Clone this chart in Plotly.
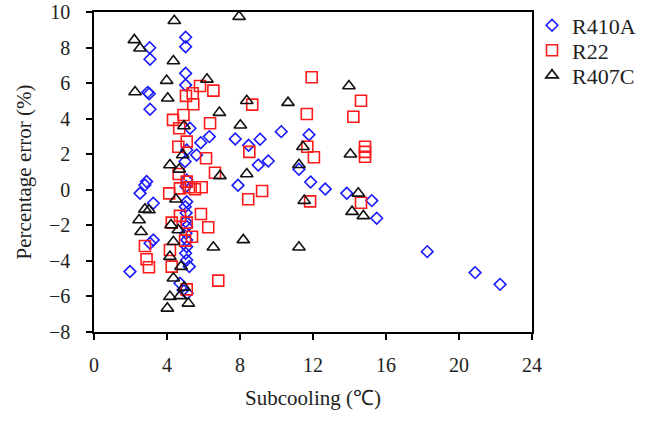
import plotly.graph_objects as go

# R410A (diamonds)
r410a_x = [5.02, 5.02, 3.05, 3.07, 5.02, 5.02, 2.94, 3.03, 3.07, 5.26, 6.32, 5.85, 5.08, 5.62, 4.99,
           5.08, 5.04, 2.88, 2.79, 2.52, 3.25, 5.08, 5.00, 5.05, 5.02, 5.08, 5.04, 5.08, 5.08, 5.02,
           5.08, 5.22, 3.25, 3.07, 1.97, 4.71, 4.88, 5.11,
           7.74, 8.47, 9.10, 10.26, 11.78, 9.00, 9.55, 11.23, 7.89, 11.87, 12.67, 13.85, 15.22,
           15.49, 18.26, 20.88, 22.25]
r410a_y = [8.58, 8.05, 7.99, 7.34, 6.55, 5.89, 5.48, 5.40, 4.53, 3.46, 2.99, 2.65, 2.24, 1.96, 1.59,
           0.55, 0.18, 0.46, 0.27, -0.20, -0.76, -0.67, -0.95, -1.30, -1.79, -2.07, -2.45, -2.82, -3.20, -3.57,
           -3.95, -4.32, -2.82, -3.01, -4.60, -5.26, -5.64, -5.82,
           2.86, 2.50, 2.84, 3.27, 3.10, 1.39, 1.62, 1.15, 0.25, 0.44, 0.04, -0.20, -0.61,
           -1.60, -3.48, -4.66, -5.32]

# R22 (squares)
r22_x = [5.81, 6.54, 5.41, 5.04, 5.44, 4.90, 4.33, 6.36, 4.67, 5.08, 4.62, 6.14, 6.63, 4.64, 4.12,
         4.71, 5.08, 5.20, 5.90, 5.53, 5.86, 4.71, 4.26, 5.08, 6.26, 5.37, 4.99, 4.16, 4.26, 6.81,
         5.08, 2.79, 2.88, 3.01,
         11.93, 8.67, 14.63, 14.21, 11.66, 11.69, 8.51, 12.05, 14.85, 14.85, 14.85, 8.45, 9.21,
         11.84, 14.63]
r22_y = [5.84, 5.58, 5.43, 5.28, 4.81, 4.21, 3.93, 3.74, 3.46, 2.71, 2.42, 1.77, 0.96, 0.89, -0.20,
         0.08, 0.46, 0.14, 0.14, 0.03, -1.36, -1.47, -1.85, -1.85, -2.11, -2.64, -2.86, -3.39, -4.32, -5.11,
         -5.60, -3.16, -3.91, -4.36,
         6.33, 4.79, 5.01, 4.11, 4.26, 2.42, 2.13, 1.83, 2.42, 2.13, 1.86, -0.53, -0.07,
         -0.65, -0.73]

# R407C (triangles)
r407c_x = [4.40, 7.95, 2.21, 2.52, 4.35, 3.98, 6.19, 2.25, 4.04, 6.87, 4.93, 4.86, 4.16, 4.67, 6.90,
           4.49, 2.79, 3.01, 2.47, 2.58, 4.22, 4.62, 4.35, 4.16, 4.77, 4.35, 4.93, 4.16, 4.71, 5.17,
           4.02, 6.54,
           13.97, 8.37, 10.63, 8.02, 11.45, 14.05, 11.23, 8.37, 11.52, 14.48, 14.14, 14.76, 8.18, 11.23]
r407c_y = [9.51, 9.74, 8.43, 7.96, 7.24, 6.14, 6.21, 5.50, 5.15, 4.34, 3.59, 1.96, 1.39, 1.15, 0.78,
           -0.53, -1.10, -1.14, -1.70, -2.36, -1.98, -2.26, -2.92, -3.76, -4.32, -4.98, -5.49, -6.01, -5.97, -6.39,
           -6.67, -3.23,
           5.84, 5.01, 4.90, 3.63, 2.42, 2.00, 1.41, 0.89, -0.61, -0.20, -1.23, -1.47, -2.82, -3.23]

x_ticks = [0, 4, 8, 12, 16, 20, 24]
y_ticks = [-8, -6, -4, -2, 0, 2, 4, 6, 8, 10]

FONT = "Liberation Serif, Times New Roman, serif"

fig = go.Figure()
fig.add_trace(go.Scatter(x=r410a_x, y=r410a_y, mode="markers", name="R410A", legend="legend",
                         marker=dict(symbol="diamond-open", size=9, color="#1a1aff",
                                     line=dict(width=1.6, color="#1a1aff"))))
fig.add_trace(go.Scatter(x=r22_x, y=r22_y, mode="markers", name="R22", legend="legend2",
                         marker=dict(symbol="square-open", size=11, color="#ff1a1a",
                                     line=dict(width=1.6, color="#ff1a1a"))))
fig.add_trace(go.Scatter(x=r407c_x, y=r407c_y, mode="markers", name="R407C", legend="legend3",
                         marker=dict(symbol="triangle-up-open", size=11, color="#111111",
                                     line=dict(width=1.6, color="#111111"))))

axis_common = dict(showgrid=False, zeroline=False, showline=True, linecolor="black",
                   linewidth=1.5, mirror=True, ticks="outside", ticklen=6, tickwidth=1.5,
                   tickcolor="black", automargin=False,
                   tickfont=dict(family=FONT, size=20, color="#222"))

leg_common = dict(x=1.0, xanchor="left", yanchor="middle",
                  font=dict(family=FONT, size=22, color="#222"),
                  bgcolor="rgba(0,0,0,0)", itemwidth=30)

fig.update_layout(
    width=652, height=423,
    margin=dict(l=94, r=120, t=12, b=91, autoexpand=False),
    paper_bgcolor="white", plot_bgcolor="white",
    font=dict(family=FONT, color="#222"),
    xaxis=dict(range=[0, 24], tickvals=x_ticks, ticklabelstandoff=8,
               title=dict(text="Subcooling (℃)", font=dict(family=FONT, size=21), standoff=16),
               **axis_common),
    yaxis=dict(range=[-8, 10], tickvals=y_ticks, ticklabelstandoff=12,
               title=dict(text="Percentage error (%)", font=dict(family=FONT, size=21), standoff=12),
               **axis_common),
    legend=dict(y=0.958, **leg_common),
    legend2=dict(y=0.880, **leg_common),
    legend3=dict(y=0.802, **leg_common),
    showlegend=True,
)

fig.write_html("out.html")
